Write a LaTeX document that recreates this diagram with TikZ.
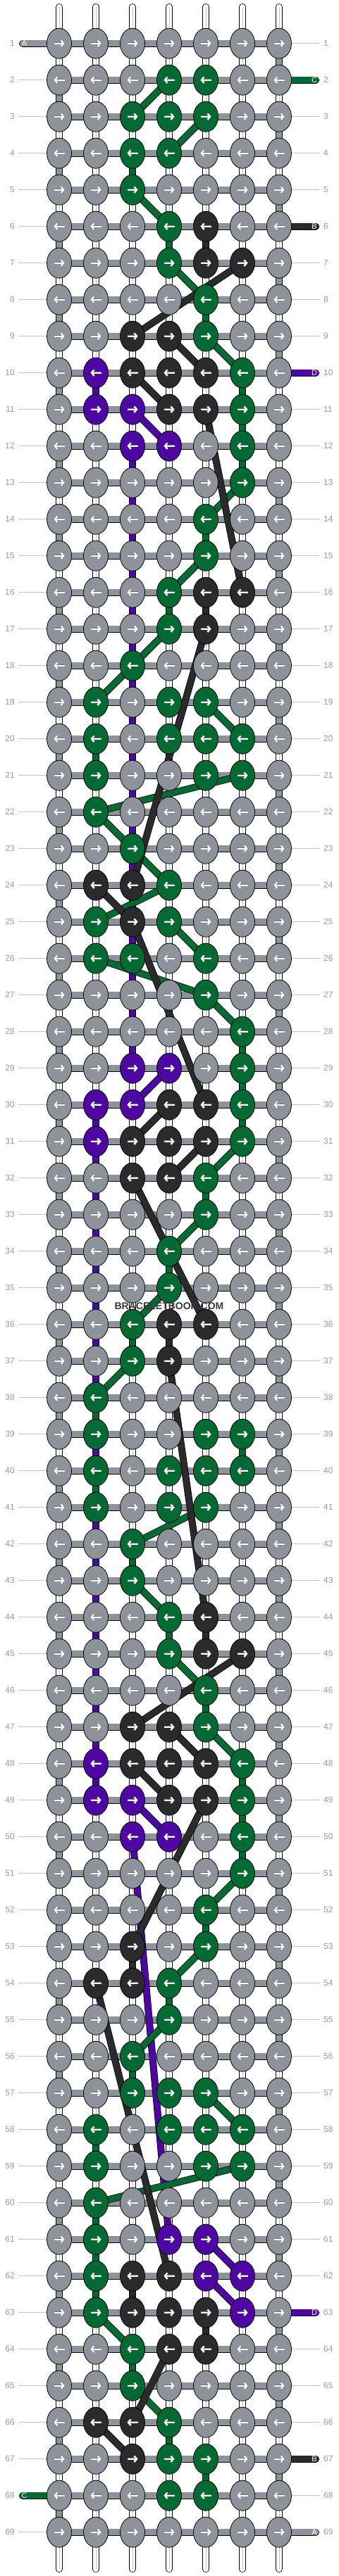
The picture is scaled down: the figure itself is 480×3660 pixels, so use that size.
\documentclass[tikz,border=0pt]{standalone}
\usepackage{fontspec}
\setmainfont{Liberation Sans}
\usetikzlibrary{arrows.meta,shapes.geometric}

\definecolor{kn-o}{HTML}{8E939B}
\definecolor{kn-G}{HTML}{046A33}
\definecolor{kn-K}{HTML}{2B2A2C}
\definecolor{kn-P}{HTML}{4E07A2}
\definecolor{labelgray}{HTML}{9A9A9A}
\definecolor{leadgray}{HTML}{C4C4C4}

\pgfdeclarelayer{warp}
\pgfdeclarelayer{weft}
\pgfdeclarelayer{strand}
\pgfsetlayers{warp,weft,strand,main}

\begin{document}
\begin{tikzpicture}[x=1pt, y=-1pt,
    knot/.style={ellipse, draw=black, line width=0.8pt, minimum width=35pt, minimum height=43pt, inner sep=0pt},
    band/.style={draw=black, line width=0.75pt, double=#1, double distance=8.5pt},
    tab/.style={band=#1, line cap=round},
    warpline/.style={draw=black, line width=0.75pt, double=white, double distance=8.5pt, line cap=round},
    dirarrow/.style={white, line width=2.2pt, -{Straight Barb[length=3.5pt,width=8.5pt]}, preaction={draw=black!55, line width=2.9pt}},
    rowlabel/.style={text=labelgray, font=\fontsize{12}{14}\selectfont, inner sep=0pt},
    lead/.style={leadgray, line width=0.8pt},
    tabletter/.style={text=white, font=\fontsize{11}{12}\selectfont, inner sep=0pt}
]
\useasboundingbox (0,0) rectangle (480,3660);

% Knots, row by row (o gray, G green, K black, P purple)
\foreach \r/\row in {
  1/{o,o,o,o,o,o,o}, 2/{o,o,o,G,G,o,o}, 3/{o,o,G,G,G,o,o}, 4/{o,o,G,G,o,o,o},
  5/{o,o,G,o,o,o,o}, 6/{o,o,o,G,K,o,o}, 7/{o,o,o,G,K,K,o}, 8/{o,o,o,o,G,o,o},
  9/{o,o,K,K,G,o,o}, 10/{o,P,K,K,K,G,o}, 11/{o,P,P,K,K,G,o}, 12/{o,o,P,P,o,G,o},
  13/{o,o,o,o,o,G,o}, 14/{o,o,o,o,G,o,o}, 15/{o,o,o,o,G,o,o}, 16/{o,o,o,G,K,K,o},
  17/{o,o,o,G,K,o,o}, 18/{o,o,G,o,o,o,o}, 19/{o,G,o,G,G,o,o}, 20/{o,G,o,G,G,G,o},
  21/{o,G,o,o,G,G,o}, 22/{o,G,o,o,o,o,o}, 23/{o,o,G,o,o,o,o}, 24/{o,K,K,G,o,o,o},
  25/{o,G,K,G,o,o,o}, 26/{o,G,G,o,G,o,o}, 27/{o,o,o,o,G,o,o}, 28/{o,o,o,o,o,G,o},
  29/{o,o,P,P,o,G,o}, 30/{o,P,P,K,K,G,o}, 31/{o,P,K,K,K,G,o}, 32/{o,o,K,K,G,o,o},
  33/{o,o,o,o,G,o,o}, 34/{o,o,o,G,o,o,o}, 35/{o,o,o,G,o,o,o}, 36/{o,o,G,K,K,o,o},
  37/{o,o,G,K,o,o,o}, 38/{o,G,o,o,o,o,o}, 39/{o,G,o,o,G,G,o}, 40/{o,G,o,G,G,G,o},
  41/{o,G,o,G,G,o,o}, 42/{o,o,G,o,o,o,o}, 43/{o,o,G,o,o,o,o}, 44/{o,o,o,G,K,o,o},
  45/{o,o,o,G,K,K,o}, 46/{o,o,o,o,G,o,o}, 47/{o,o,K,K,G,o,o}, 48/{o,P,K,K,K,G,o},
  49/{o,P,P,K,K,G,o}, 50/{o,o,P,P,o,G,o}, 51/{o,o,o,o,o,G,o}, 52/{o,o,o,o,G,o,o},
  53/{o,o,K,o,G,o,o}, 54/{o,K,K,G,o,o,o}, 55/{o,o,o,G,o,o,o}, 56/{o,o,G,o,o,o,o},
  57/{o,o,G,G,G,o,o}, 58/{o,G,o,G,G,G,o}, 59/{o,G,o,o,G,G,o}, 60/{o,G,o,o,o,o,o},
  61/{o,G,o,P,P,o,o}, 62/{o,G,K,K,P,P,o}, 63/{o,G,K,K,K,P,o}, 64/{o,o,G,K,K,o,o},
  65/{o,o,G,o,o,o,o}, 66/{o,K,K,G,o,o,o}, 67/{o,o,K,G,G,o,o}, 68/{o,o,o,G,G,o,o},
  69/{o,o,o,o,o,o,o}} {
  \foreach \k [count=\c] in \row {
    \node[knot, fill=kn-\k] (k-\r-\c) at ({84+52*(\c-1)}, {61.7+52*(\r-1)}) {};
    \ifodd\r\relax
      \draw[dirarrow] ([xshift=-7.5pt]k-\r-\c.center) -- ++(15,0);
    \else
      \draw[dirarrow] ([xshift=7.5pt]k-\r-\c.center) -- ++(-15,0);
    \fi
  }
  % row numbers
  \node[rowlabel, anchor=east] (ll-\r) at (21, {61.7+52*(\r-1)}) {\r};
  \node[rowlabel, anchor=west] (rl-\r) at (459, {61.7+52*(\r-1)}) {\r};
}

% Base strings and leaders
\begin{pgfonlayer}{warp}
  \foreach \c in {1,...,7} {
    \coordinate (top-\c) at ({84+52*(\c-1)}, 10);
    \coordinate (bot-\c) at ({84+52*(\c-1)}, 3650);
    \draw[warpline] (top-\c) -- (bot-\c);
    \draw[leadgray, line width=0.8pt] (top-\c) -- (bot-\c);
  }
  \foreach \r in {1,...,69} {
    \draw[lead] ([xshift=5pt]ll-\r.east) -- (k-\r-1.west);
    \draw[lead] (k-\r-7.east) -- ([xshift=-5pt]rl-\r.west);
  }
\end{pgfonlayer}

% Background string A, snaking row by row
\begin{pgfonlayer}{weft}
  \foreach \r in {1,...,69} {
    \draw[band=kn-o] (k-\r-1.center) -- (k-\r-7.center);
  }
  \foreach \r in {1,...,68} {
    \pgfmathtruncatemacro\s{\r+1}
    \ifodd\r\relax
      \draw[band=kn-o] (k-\r-7.center) -- (k-\s-7.center);
    \else
      \draw[band=kn-o] (k-\r-1.center) -- (k-\s-1.center);
    \fi
  }
  % string ends
  \foreach \t/\r/\side/\dx/\col in {A/1/1/-52/o, C/2/7/52/G, B/6/7/52/K, D/10/7/52/P,
      D/63/7/52/P, B/67/7/52/K, C/68/1/-52/G, A/69/7/52/o} {
    \coordinate (end-\t-\r) at ([xshift=\dx pt]k-\r-\side.center);
    \draw[tab=kn-\col] (end-\t-\r) -- (k-\r-\side.center);
  }
\end{pgfonlayer}
\foreach \t/\r/\side/\dx in {A/1/1/2.5, C/2/7/-2, B/6/7/-2, D/10/7/-2,
    D/63/7/-2, B/67/7/-2, C/68/1/2.5, A/69/7/-2} {
  \node[tabletter] (lt-\t-\r) at ([xshift=\dx pt]end-\t-\r) {\t};
}

% Coloured strings between rows
\begin{pgfonlayer}{strand}
  % D
  \foreach \ra/\ca/\rb/\cb in {10/2/11/2, 11/3/12/4, 12/3/29/3, 29/4/30/3, 30/2/31/2,
      31/2/48/2, 48/2/49/2, 49/3/50/4, 50/3/61/4, 61/5/62/6, 62/5/63/6} {
    \draw[band=kn-P] (k-\ra-\ca.center) -- (k-\rb-\cb.center);
  }
  % C
  \foreach \ra/\ca/\cb in {2/4/3, 3/5/4, 4/3/3, 5/3/4, 6/4/4, 7/4/5, 8/5/5, 9/5/6,
      10/6/6, 11/6/6, 12/6/6, 13/6/5, 14/5/5, 15/5/4, 16/4/4, 17/4/3, 18/3/2, 19/5/6,
      20/2/2, 21/6/2, 22/2/3, 23/3/4, 24/4/2, 25/4/5, 26/2/5, 27/5/6, 28/6/6, 29/6/6,
      30/6/6, 31/6/5, 32/5/5, 33/5/4, 34/4/4, 35/4/3, 36/3/3, 37/3/2, 38/2/2, 39/6/6,
      40/2/2, 41/5/3, 42/3/3, 43/3/4, 44/4/4, 45/4/5, 46/5/5, 47/5/6, 48/6/6, 49/6/6,
      50/6/6, 51/6/5, 52/5/5, 53/5/4, 54/4/4, 55/4/3, 56/3/3, 57/5/6, 58/2/2, 59/6/2,
      60/2/2, 61/2/2, 62/2/2, 63/2/3, 64/3/3, 65/3/4, 66/4/4, 67/5/5} {
    \pgfmathtruncatemacro\rb{\ra+1}
    \draw[band=kn-G] (k-\ra-\ca.center) -- (k-\rb-\cb.center);
  }
  % B
  \foreach \ra/\ca/\rb/\cb in {6/5/7/5, 7/6/9/3, 9/4/10/5, 10/3/11/4, 11/5/16/6,
      16/5/17/5, 17/5/24/3, 24/2/25/3, 25/3/30/5, 30/4/31/3, 31/5/32/4, 32/3/36/5,
      36/4/37/4, 37/4/44/5, 44/5/45/5, 45/6/47/3, 47/4/48/5, 48/3/49/4, 49/5/53/3,
      53/3/54/3, 54/2/62/4, 62/3/63/3, 63/5/64/5, 64/4/66/3, 66/2/67/3} {
    \draw[band=kn-K] (k-\ra-\ca.center) -- (k-\rb-\cb.center);
  }
\end{pgfonlayer}

\node[font=\bfseries\fontsize{14}{16}\selectfont, text=black!78] (mark) at (240,1856) {BRACELETBOOK.COM};

\end{tikzpicture}
\end{document}
